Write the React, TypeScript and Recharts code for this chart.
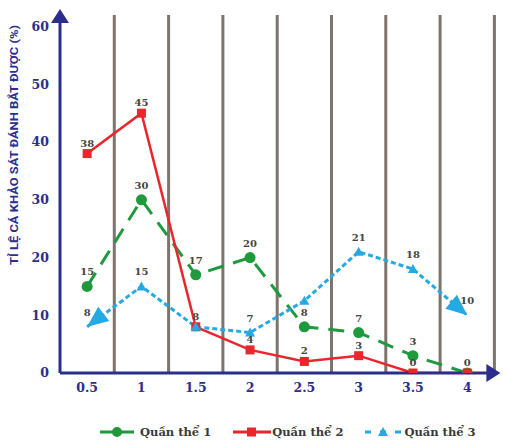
import React from "react";
import {
  LineChart, Line, XAxis, YAxis, ReferenceLine, LabelList, Legend,
} from "recharts";

// sampling classes (x axis) and share of fish caught per population (%)
const classes = [0.5, 1, 1.5, 2, 2.5, 3, 3.5, 4];
const q1 = [15, 30, 17, 20, 8, 7, 3, 0];
const q2 = [38, 45, 8, 4, 2, 3, 0, 0];
const q3 = [8, 15, 8, 7, 12.5, 21, 18, 10];
const q1Labels = ["15", "30", "17", "20", "8", "7", "3", ""];
const q2Labels = ["38", "45", "8", "4", "2", "3", "0", "0"];
const q3Labels = ["8", "15", "", "7", "", "21", "18", "10"];
const xTicks = [0.5, 1, 1.5, 2, 2.5, 3, 3.5, 4];
const yTicks = [0, 10, 20, 30, 40, 50, 60];
const dividers = [0.75, 1.25, 1.75, 2.25, 2.75, 3.25, 3.75, 4.25];
const seriesNames = ["Quần thể 1", "Quần thể 2", "Quần thể 3"];

const data = classes.map((x, i) => ({ x, q1: q1[i], q2: q2[i], q3: q3[i] }));

const navy = "#2b2e8c";
const green = "#1e9a3d";
const red = "#e8262b";
const blue = "#25a9e3";
const divColor = "#7d746e";
const labelColor = "#444444";
const serif = "'DejaVu Serif', serif";

const tickStyle = { fill: navy, fontSize: 12.5, fontWeight: 700, fontFamily: serif };

const makeLabel = (labels: string[], dy: number) => (props: any) => {
  const { x, y, index } = props;
  const t = labels[index];
  if (!t) return null;
  return (
    <text x={x} y={y + dy} textAnchor="middle" fill={labelColor}
      fontSize={10} fontWeight={700} fontFamily={serif}>
      {t}
    </text>
  );
};

const CircleDot = (props: any) => {
  const { cx, cy } = props;
  return <circle cx={cx} cy={cy} r={5.5} fill={green} />;
};

const SquareDot = (props: any) => {
  const { cx, cy } = props;
  return <rect x={cx - 4.5} y={cy - 4.5} width={9} height={9} fill={red} />;
};

const TriDot = (props: any) => {
  const { cx, cy, index } = props;
  if (index === 0 || index === classes.length - 1) {
    const angle = index === 0 ? 142 : 40;
    return (
      <path d="M0,0 L-21,-9 L-21,9 Z" fill={blue}
        transform={`translate(${cx},${cy}) rotate(${angle})`} />
    );
  }
  return <path d={`M${cx},${cy - 5} L${cx + 5},${cy + 4} L${cx - 5},${cy + 4} Z`} fill={blue} />;
};

const LegendContent = () => (
  <div style={{
    display: "flex", alignItems: "center", paddingLeft: 100,
    fontFamily: serif, fontWeight: 700, fontSize: 11.5, color: "#3a3a3a",
  }}>
    <svg width={36} height={14}>
      <line x1={0} y1={7} x2={34} y2={7} stroke={green} strokeWidth={3} />
      <circle cx={17} cy={7} r={5} fill={green} />
    </svg>
    <span style={{ marginLeft: 4, marginRight: 22 }}>{seriesNames[0]}</span>
    <svg width={38} height={14}>
      <line x1={0} y1={7} x2={38} y2={7} stroke={red} strokeWidth={3} />
      <rect x={14} y={2.5} width={9} height={9} fill={red} />
    </svg>
    <span style={{ marginLeft: 1, marginRight: 20 }}>{seriesNames[1]}</span>
    <svg width={40} height={14}>
      <line x1={0} y1={7} x2={40} y2={7} stroke={blue} strokeWidth={3} strokeDasharray="6 9" strokeDashoffset={-2} />
      <path d="M20,2 L25,11 L15,11 Z" fill={blue} />
    </svg>
    <span style={{ marginLeft: 1 }}>{seriesNames[2]}</span>
  </div>
);

export default function App() {
  return (
    <div style={{ position: "absolute", left: 0, top: 0, background: "#ffffff" }}>
      <LineChart width={506} height={447} data={data}
        margin={{ top: 15, right: 11.6, left: 0, bottom: 44 }}>
        <defs>
          <marker id="axisArrow" viewBox="0 0 14 18" refX={8} refY={9}
            markerWidth={14} markerHeight={18} markerUnits="userSpaceOnUse"
            orient="auto-start-reverse">
            <path d="M0,0 L14,9 L0,18 Z" fill={navy} />
          </marker>
        </defs>
        {dividers.map((d) => (
          <ReferenceLine key={d} x={d} stroke={divColor} strokeWidth={3} ifOverflow="extendDomain" />
        ))}
        <XAxis type="number" dataKey="x" domain={[0.25, 4.25]} ticks={xTicks}
          allowDataOverflow tickLine={false} tickSize={0} tickMargin={10} height={30}
          axisLine={{ stroke: navy, strokeWidth: 3, markerEnd: "url(#axisArrow)" }}
          tick={tickStyle} interval={0} />
        <YAxis type="number" domain={[0, 62]} ticks={yTicks} allowDataOverflow
          tickLine={false} tickSize={0} tickMargin={11} width={60} interval={0}
          axisLine={{ stroke: navy, strokeWidth: 3, markerStart: "url(#axisArrow)" }}
          tick={tickStyle} />
        <text x={14} y={145} transform="rotate(-90 14 145)" textAnchor="middle"
          dominantBaseline="central" fill={navy} fontSize={11} fontWeight={700}
          fontFamily="'Liberation Sans Narrow', 'Roboto', sans-serif"
          textLength={240} lengthAdjust="spacingAndGlyphs">
          TỈ LỆ CÁ   KHẢO SÁT ĐÁNH BẮT ĐƯỢC (%)
        </text>
        <Line dataKey="q1" name={seriesNames[0]} stroke={green} strokeWidth={3}
          strokeDasharray="16 10" dot={<CircleDot />} activeDot={false} isAnimationActive={false}>
          <LabelList dataKey="q1" content={makeLabel(q1Labels, -11)} />
        </Line>
        <Line dataKey="q2" name={seriesNames[1]} stroke={red} strokeWidth={2.5}
          dot={<SquareDot />} activeDot={false} isAnimationActive={false}>
          <LabelList dataKey="q2" content={makeLabel(q2Labels, -7)} />
        </Line>
        <Line dataKey="q3" name={seriesNames[2]} stroke={blue} strokeWidth={3}
          strokeDasharray="5 3" dot={<TriDot />} activeDot={false} isAnimationActive={false}>
          <LabelList dataKey="q3" content={makeLabel(q3Labels, -11)} />
        </Line>
        <Legend layout="horizontal" verticalAlign="middle" align="center"
          content={<LegendContent />}
          wrapperStyle={{ top: 425, left: 0, width: 506, height: 16 }} />
      </LineChart>
    </div>
  );
}
